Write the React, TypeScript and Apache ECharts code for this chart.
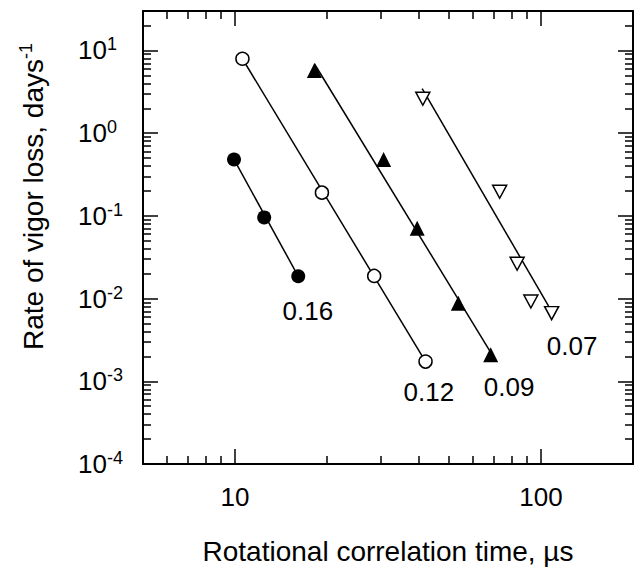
import React, { useEffect, useRef } from "react";
import * as echarts from "echarts";

// Tick values
const xMajorTicks = [10, 100];
const xMinorTicks = [6, 7, 8, 9, 20, 30, 40, 50, 60, 70, 80, 90];
const yMajorTicks = [0.0001, 0.001, 0.01, 0.1, 1, 10];
const yMinorTicks = [
  0.0002, 0.0003, 0.0004, 0.0005, 0.0006, 0.0007, 0.0008, 0.0009,
  0.002, 0.003, 0.004, 0.005, 0.006, 0.007, 0.008, 0.009,
  0.02, 0.03, 0.04, 0.05, 0.06, 0.07, 0.08, 0.09,
  0.2, 0.3, 0.4, 0.5, 0.6, 0.7, 0.8, 0.9,
  2, 3, 4, 5, 6, 7, 8, 9, 20,
];

// Data: rotational correlation time (µs) vs rate of vigor loss (days^-1)
const s016X = [9.92, 12.45, 16.09];
const s016Y = [0.481, 0.0959, 0.0186];
const s012X = [10.57, 19.23, 28.5, 41.95];
const s012Y = [7.94, 0.191, 0.0188, 0.00173];
const s009X = [18.17, 30.6, 39.4, 53.7, 68.5];
const s009Y = [5.74, 0.481, 0.0707, 0.00881, 0.00209];
const s007X = [41.1, 73.3, 83.6, 92.7, 108.4];
const s007Y = [2.61, 0.196, 0.0264, 0.00923, 0.00667];

// Fitted line end points
const fit016X = [9.92, 16.09];
const fit016Y = [0.481, 0.0186];
const fit012X = [10.57, 41.95];
const fit012Y = [7.94, 0.00173];
const fit009X = [18.17, 68.5];
const fit009Y = [6.91, 0.00224];
const fit007X = [40.9, 108.3];
const fit007Y = [3.45, 0.00705];

// Series labels and their anchor positions
const labelNames = ["0.16", "0.12", "0.09", "0.07"];
const labelX = [17.3, 43.0, 78.7, 126.4];
const labelY = [0.00714, 0.000743, 0.000853, 0.0027];

const FONT = "'Liberation Sans', Arial, Helvetica, sans-serif";

const zip = (xs: number[], ys: number[]) => xs.map((x, i) => [x, ys[i]]);

export default function App() {
  const ref = useRef<HTMLDivElement>(null);

  useEffect(() => {
    document.body.style.margin = "0";
    if (!ref.current) return;
    const chart = echarts.init(ref.current, undefined, { renderer: "svg" });

    const black = "#000";
    const xBase = (position: "bottom" | "top", ticks: number[], len: number, showLine: boolean, showLabel: boolean) => ({
      type: "log",
      logBase: 10,
      min: 5,
      max: 200,
      position,
      axisLine: { show: showLine, onZero: false, lineStyle: { color: black, width: 2 } },
      axisTick: { show: true, inside: true, length: len, customValues: ticks, lineStyle: { color: black, width: 1.5 } },
      axisLabel: showLabel
        ? {
            show: true,
            customValues: ticks,
            fontSize: 26,
            color: black,
            fontFamily: FONT,
            margin: 20,
            formatter: (v: number) => String(Math.round(v)),
          }
        : { show: false },
      splitLine: { show: false },
      minorTick: { show: false },
    });
    const yBase = (position: "left" | "right", ticks: number[], len: number, showLine: boolean, showLabel: boolean) => ({
      type: "log",
      logBase: 10,
      min: 0.0001,
      max: 30,
      position,
      axisLine: { show: showLine, onZero: false, lineStyle: { color: black, width: 2 } },
      axisTick: { show: true, inside: true, length: len, customValues: ticks, lineStyle: { color: black, width: 1.5 } },
      axisLabel: showLabel
        ? {
            show: true,
            customValues: ticks,
            fontSize: 26,
            lineHeight: 30,
            color: black,
            fontFamily: FONT,
            align: "left",
            margin: 65,
            formatter: (v: number) => "10{sup|" + Math.round(Math.log10(v)) + "}",
            rich: {
              sup: { fontSize: 18, lineHeight: 16, verticalAlign: "top", fontFamily: FONT, color: black },
            },
          }
        : { show: false },
      splitLine: { show: false },
      minorTick: { show: false },
    });

    const xMain: any = xBase("bottom", xMajorTicks, 15, true, true);
    xMain.name = "Rotational correlation time, µs";
    xMain.nameLocation = "middle";
    xMain.nameGap = 73;
    xMain.nameTextStyle = { fontSize: 28, color: black, fontFamily: FONT };

    const fitLine = (xs: number[], ys: number[]) => ({
      type: "line",
      data: zip(xs, ys),
      symbol: "none",
      lineStyle: { color: black, width: 1.5 },
      z: 2,
      silent: true,
    });

    const option: any = {
      animation: false,
      textStyle: { fontFamily: FONT },
      grid: { left: 143, right: 7, top: 11, bottom: 104, containLabel: false },
      xAxis: [
        xMain,
        xBase("bottom", xMinorTicks, 8, false, false),
        xBase("top", xMajorTicks, 15, true, false),
        xBase("top", xMinorTicks, 8, false, false),
      ],
      yAxis: [
        yBase("left", yMajorTicks, 15, true, true),
        yBase("left", yMinorTicks, 8, false, false),
        yBase("right", yMajorTicks, 15, true, false),
        yBase("right", yMinorTicks, 8, false, false),
      ],
      graphic: [
        {
          type: "text",
          x: 33,
          y: 196.5,
          rotation: Math.PI / 2,
          style: {
            text: "Rate of vigor loss, days{sup|-1}",
            fontSize: 28,
            lineHeight: 32,
            fontFamily: FONT,
            fill: black,
            align: "center",
            verticalAlign: "middle",
            rich: {
              sup: { fontSize: 18, lineHeight: 18, verticalAlign: "top", fontFamily: FONT, fill: black },
            },
          },
        },
      ],
      series: [
        fitLine(fit016X, fit016Y),
        fitLine(fit012X, fit012Y),
        fitLine(fit009X, fit009Y),
        fitLine(fit007X, fit007Y),
        {
          type: "scatter",
          data: zip(s016X, s016Y),
          symbol: "circle",
          symbolSize: 14,
          itemStyle: { color: black, opacity: 1 },
          z: 3,
        },
        {
          type: "scatter",
          data: zip(s012X, s012Y),
          symbol: "circle",
          symbolSize: 13,
          itemStyle: { color: "#fff", borderColor: black, borderWidth: 1.5, opacity: 1 },
          z: 3,
        },
        {
          type: "scatter",
          data: zip(s009X, s009Y),
          symbol: "triangle",
          symbolSize: [15, 15],
          itemStyle: { color: black, opacity: 1 },
          z: 3,
        },
        {
          type: "scatter",
          data: zip(s007X, s007Y),
          symbol: "triangle",
          symbolRotate: 180,
          symbolSize: [14, 13],
          itemStyle: { color: "#fff", borderColor: black, borderWidth: 1.5, opacity: 1 },
          z: 3,
        },
        {
          type: "scatter",
          data: labelNames.map((n, i) => ({ name: n, value: [labelX[i], labelY[i]] })),
          symbolSize: 1,
          itemStyle: { color: "rgba(0,0,0,0)", opacity: 1 },
          label: {
            show: true,
            position: "inside",
            formatter: (p: any) => p.name,
            fontSize: 26,
            color: black,
            opacity: 1,
            textBorderWidth: 0,
            fontFamily: FONT,
          },
          z: 4,
        },
      ],
    };

    chart.setOption(option);
    return () => chart.dispose();
  }, []);

  return <div ref={ref} style={{ width: 640, height: 570 }} />;
}
